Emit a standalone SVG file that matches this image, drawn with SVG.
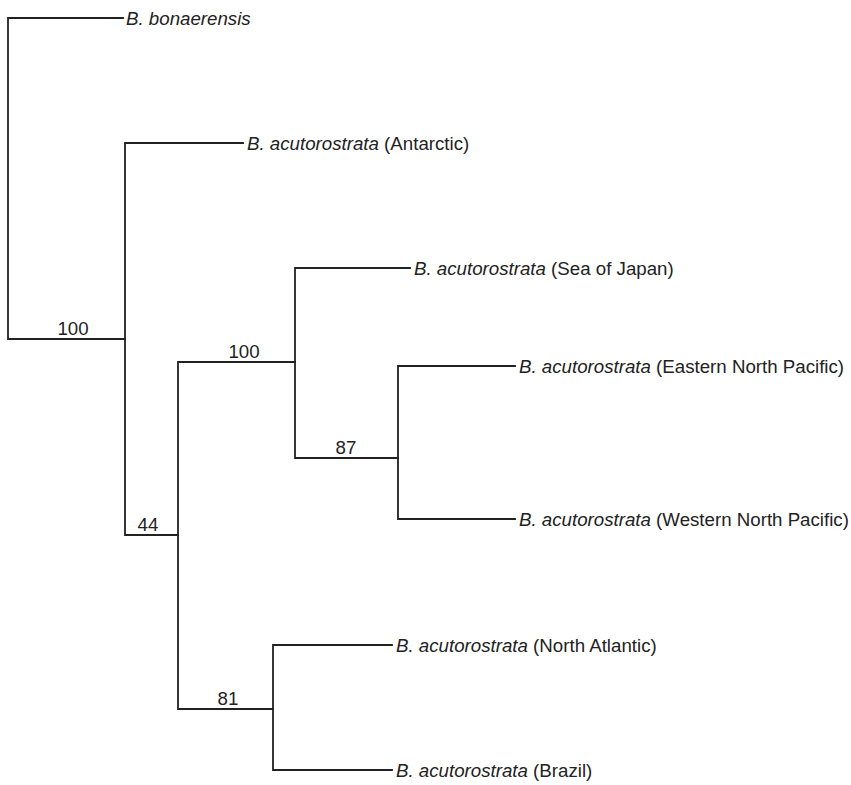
<svg xmlns="http://www.w3.org/2000/svg" width="851" height="785" viewBox="0 0 851 785">
<style>
.e{fill:none;stroke:#222;stroke-width:1.8;stroke-linecap:square}
text{font-family:"Liberation Sans",Arial,sans-serif;font-size:18.7px;fill:#222}
.i{font-style:italic}
.b{text-anchor:middle}
</style>
<rect width="851" height="785" fill="#fff"/>
<g id="connectors">
<path class="e" d="M123,18H8V339H125"/>
<path class="e" d="M243,143H125V535H178"/>
<path class="e" d="M295,362H178V709H273"/>
<path class="e" d="M410,268H295V458H398"/>
<path class="e" d="M515,366H398V519H515"/>
<path class="e" d="M392,645H273V770H392"/>
</g>
<g id="support">
<text class="b" x="73" y="335">100</text>
<text class="b" x="148" y="531">44</text>
<text class="b" x="244" y="358">100</text>
<text class="b" x="346" y="454">87</text>
<text class="b" x="228" y="705">81</text>
</g>
<g id="n-bonaerensis"><text x="126" y="25"><tspan class="i">B. bonaerensis</tspan></text></g>
<g id="n-antarctic"><text x="247" y="150"><tspan class="i">B. acutorostrata</tspan> (Antarctic)</text></g>
<g id="n-japan"><text x="414" y="275"><tspan class="i">B. acutorostrata</tspan> (Sea of Japan)</text></g>
<g id="n-enp"><text x="519" y="373"><tspan class="i">B. acutorostrata</tspan> (Eastern North Pacific)</text></g>
<g id="n-wnp"><text x="519" y="526"><tspan class="i">B. acutorostrata</tspan> (Western North Pacific)</text></g>
<g id="n-na"><text x="396" y="652"><tspan class="i">B. acutorostrata</tspan> (North Atlantic)</text></g>
<g id="n-brazil"><text x="396" y="777"><tspan class="i">B. acutorostrata</tspan> (Brazil)</text></g>
</svg>
